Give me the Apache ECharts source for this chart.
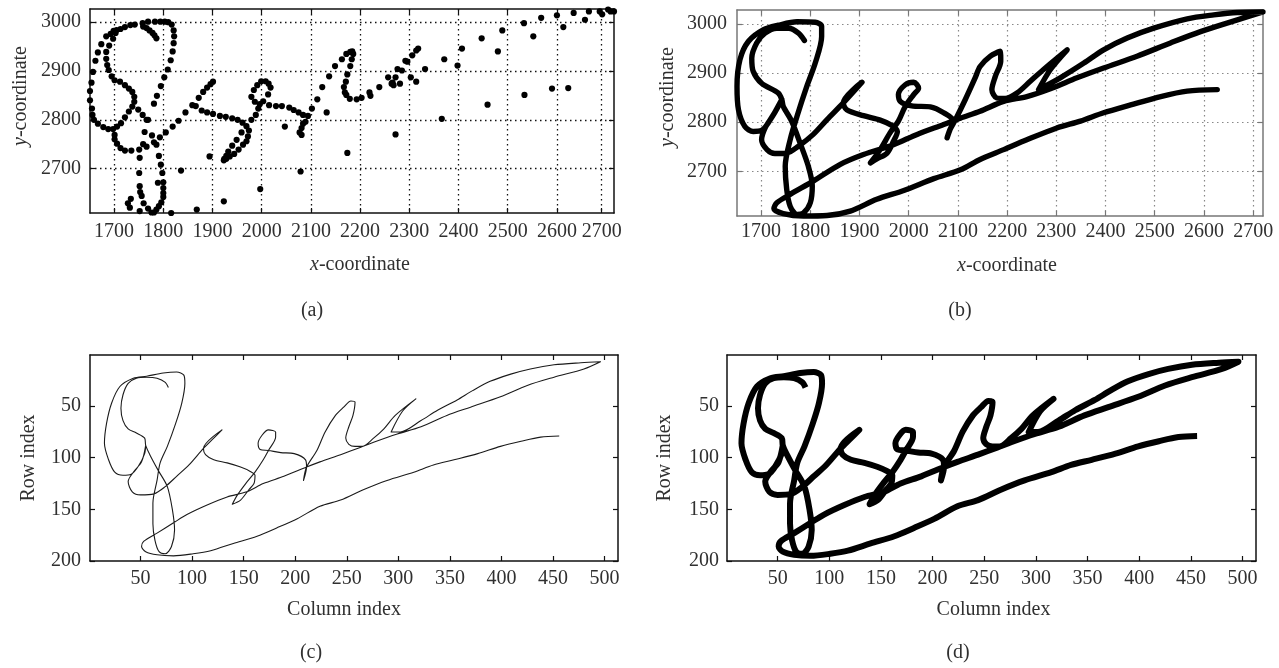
<!DOCTYPE html>
<html><head><meta charset="utf-8">
<style>html,body{margin:0;padding:0;background:#fff}#c{width:1279px;height:668px}</style>
<script src="https://cdn.jsdelivr.net/npm/echarts@6/dist/echarts.min.js"></script>
</head><body><div id="c"></div>
<script>
const xTicks = [1700,1800,1900,2000,2100,2200,2300,2400,2500,2600,2700];
const xTicksA = [1700,1800,1900,2000,2100,2200,2300,2400,2500,2600,2691];
const yTicks = [2700,2800,2900,3000];
const colTicks = [50,100,150,200,250,300,350,400,450,500];
const rowTicks = [50,100,150,200];
const captions = ['(a)','(b)','(c)','(d)'];

const dotsA = [[1786,2967],[1782,2973],[1778,2978],[1772,2983],[1766,2988],[1759,2991],[1758,2998],[1742,2995],[1733,2994],[1722,2990],[1713,2986],[1705,2984],[1699,2982],[1693,2976],[1684,2971],[1674,2955],[1667,2938],[1662,2921],[1657,2898],[1654,2876],[1651,2859],[1651,2840],[1655,2823],[1656,2810],[1659,2800],[1667,2792],[1678,2785],[1688,2781],[1698,2781],[1706,2786],[1714,2793],[1722,2805],[1730,2817],[1737,2827],[1741,2837],[1741,2847],[1737,2857],[1730,2864],[1722,2871],[1712,2878],[1701,2881],[1695,2889],[1689,2902],[1686,2912],[1684,2925],[1684,2939],[1690,2952],[1698,2966],[1703,2978],[1769,3001],[1783,3001],[1794,3001],[1803,3001],[1810,3000],[1817,2995],[1821,2983],[1822,2971],[1821,2957],[1819,2940],[1815,2922],[1809,2903],[1802,2887],[1795,2869],[1787,2849],[1781,2833],[1769,2800],[1762,2775],[1777,2768],[1793,2764],[1805,2774],[1819,2786],[1831,2798],[1845,2815],[1859,2830],[1872,2845],[1881,2857],[1889,2866],[1896,2873],[1901,2878],[1866,2828],[1878,2819],[1889,2815],[1901,2812],[1915,2808],[1927,2806],[1940,2803],[1951,2800],[1961,2794],[1969,2787],[1974,2778],[1972,2766],[1969,2756],[1962,2749],[1959,2774],[1949,2759],[1940,2747],[1932,2735],[1928,2726],[1923,2717],[1935,2725],[1944,2730],[1953,2739],[1924,2720],[1928,2720],[1993,2823],[1988,2810],[1979,2800],[2018,2866],[2014,2874],[2008,2879],[1999,2879],[1991,2871],[1984,2861],[1979,2847],[1986,2837],[1996,2832],[2003,2838],[2015,2830],[2029,2828],[2041,2828],[2056,2825],[2065,2820],[2075,2815],[2084,2810],[2094,2808],[2089,2796],[2084,2792],[2081,2783],[2077,2774],[2081,2769],[2102,2823],[2113,2842],[2123,2867],[2137,2889],[2047,2786],[2132,2815],[2013,2852],[2079,2694],[1997,2658],[1923,2633],[1894,2725],[1836,2696],[1868,2616],[1816,2609],[1791,2726],[1795,2708],[1798,2691],[1800,2672],[1789,2671],[1800,2660],[1800,2650],[1800,2642],[1796,2631],[1791,2623],[1786,2616],[1781,2610],[1776,2610],[1769,2618],[1760,2629],[1756,2644],[1753,2652],[1752,2664],[1751,2691],[1752,2722],[1751,2739],[1759,2750],[1766,2745],[1781,2754],[1786,2749],[1749,2821],[1758,2810],[1766,2800],[1728,2629],[1734,2638],[1732,2620],[1752,2613],[1701,2769],[1701,2760],[1706,2751],[1713,2742],[1722,2737],[1735,2737],[2149,2910],[2163,2924],[2172,2935],[2180,2939],[2184,2940],[2186,2935],[2183,2924],[2180,2910],[2174,2893],[2171,2878],[2167,2867],[2169,2856],[2172,2851],[2179,2843],[2193,2842],[2203,2845],[2219,2856],[2221,2849],[2239,2867],[2257,2887],[2264,2874],[2268,2871],[2266,2876],[2272,2887],[2281,2874],[2276,2904],[2285,2901],[2292,2921],[2296,2919],[2303,2887],[2306,2932],[2314,2878],[2314,2942],[2318,2946],[2332,2904],[2371,2924],[2398,2911],[2407,2946],[2447,2967],[2480,2940],[2489,2983],[2533,2998],[2552,2971],[2568,3009],[2600,3014],[2613,2990],[2634,3019],[2657,3005],[2665,3022],[2687,3022],[2692,3016],[2704,3026],[2709,3022],[2716,3022],[2174,2732],[2272,2770],[2366,2802],[2459,2831],[2534,2851],[2590,2864],[2623,2865]];

const strokeB = [[1788,2966],[1776,2981],[1756,2991],[1732,2991],[1708,2981],[1691,2961],[1681,2930],[1684,2903],[1701,2879],[1735,2859],[1742,2846],[1745,2832],[1762,2802],[1779,2758],[1796,2710],[1804,2670],[1800,2636],[1786,2615],[1773,2612],[1759,2629],[1752,2663],[1749,2710],[1759,2764],[1773,2812],[1793,2873],[1810,2920],[1823,2974],[1823,2995],[1810,3003],[1773,3004],[1735,2997],[1705,2988],[1674,2964],[1657,2927],[1651,2873],[1654,2825],[1667,2791],[1684,2781],[1701,2783],[1725,2815],[1742,2846],[1725,2815],[1708,2788],[1701,2764],[1712,2744],[1728,2736],[1752,2737],[1776,2751],[1806,2775],[1834,2805],[1867,2839],[1905,2881],[1867,2839],[1874,2825],[1908,2813],[1942,2804],[1966,2793],[1977,2781],[1969,2761],[1956,2737],[1935,2725],[1922,2717],[1942,2744],[1962,2778],[1979,2802],[1993,2832],[2010,2856],[2020,2869],[2010,2881],[1993,2876],[1979,2856],[1983,2842],[2006,2833],[2044,2831],[2071,2819],[2091,2802],[2084,2785],[2078,2768],[2084,2785],[2095,2805],[2115,2846],[2135,2890],[2145,2913],[2166,2934],[2186,2944],[2187,2924],[2176,2893],[2169,2866],[2179,2849],[2196,2848],[2220,2859],[2247,2883],[2274,2907],[2322,2947],[2288,2907],[2264,2866],[2308,2890],[2356,2920],[2396,2947],[2444,2971],[2498,2991],[2566,3010],[2620,3018],[2668,3023],[2720,3024],[2668,3008],[2593,2984],[2532,2961],[2464,2934],[2396,2910],[2342,2890],[2288,2868],[2240,2852],[2193,2842],[2145,2822],[2105,2808],[2071,2795],[2017,2775],[1969,2754],[1908,2734],[1861,2714],[1806,2680],[1759,2653],[1732,2636],[1726,2624],[1745,2614],[1786,2609],[1834,2610],[1881,2619],[1935,2643],[1990,2661],[2051,2685],[2105,2703],[2145,2724],[2193,2744],[2240,2764],[2301,2788],[2349,2802],[2396,2819],[2451,2835],[2512,2852],[2566,2863],[2627,2866]];

const strokeCD = [[77,32],[74,27],[66,23],[56,22],[46,23],[38,28],[33,39],[31,52],[33,64],[38,72],[46,76],[54,81],[55,88],[59,97],[67,112],[76,128],[81,151],[83,170],[80,186],[74,193],[68,191],[64,180],[62,164],[62,144],[66,122],[69,105],[76,89],[84,67],[90,47],[93,28],[92,20],[85,17],[72,18],[56,21],[43,23],[30,31],[22,47],[17,67],[15,86],[19,102],[25,114],[33,117],[41,116],[48,108],[54,96],[55,88],[51,104],[43,114],[38,123],[42,133],[50,136],[63,135],[74,128],[85,118],[97,107],[111,91],[121,81],[129,73],[111,91],[113,97],[121,102],[134,105],[147,109],[156,113],[161,117],[160,125],[155,131],[147,141],[139,145],[144,136],[152,125],[161,114],[169,102],[174,93],[181,80],[181,75],[174,73],[168,78],[164,86],[166,92],[174,93],[186,95],[199,96],[210,102],[211,109],[208,122],[211,109],[221,93],[229,75],[239,59],[247,51],[254,45],[258,46],[256,59],[252,70],[249,81],[252,87],[258,89],[265,89],[276,81],[286,72],[297,59],[317,43],[304,55],[293,75],[302,75],[322,64],[338,54],[357,44],[372,35],[389,26],[409,19],[428,14],[451,10],[477,8],[496,7],[480,14],[451,22],[425,30],[399,41],[370,51],[347,59],[322,70],[299,77],[276,85],[263,90],[244,97],[224,104],[211,109],[189,118],[169,125],[153,133],[134,138],[114,146],[95,155],[82,163],[66,173],[53,181],[51,186],[55,191],[66,194],[82,195],[101,193],[118,190],[140,183],[163,176],[182,168],[202,159],[224,147],[244,141],[266,131],[289,122],[315,114],[334,107],[354,102],[377,96],[399,89],[419,84],[438,80],[456,79]];

const SERIF = '"Liberation Serif","DejaVu Serif",serif';
const TXT = '#303030';
const labelFont = {fontFamily:SERIF,fontSize:20,color:TXT};

function nameStyle(pad){
  return {fontFamily:SERIF,fontSize:20,color:TXT,padding:pad,
    rich:{i:{fontFamily:SERIF,fontSize:20,color:TXT,fontStyle:'italic'},t:{fontFamily:SERIF,fontSize:20,color:TXT}}};
}
function axisPair(dim,gi,o){
  const line={show:true,onZero:false,lineStyle:{color:o.box,width:1.5}};
  const tick={show:true,inside:true,length:5,lineStyle:{color:o.box,width:1.2},customValues:o.ticks};
  const main={type:'value',gridIndex:gi,position:dim==='x'?'bottom':'left',min:o.min,max:o.max,inverse:!!o.inverse,
    axisLine:line,axisTick:tick,
    axisLabel:Object.assign({show:true,margin:o.margin,hideOverlap:false,showMinLabel:true,showMaxLabel:true,
      customValues:o.ticks,formatter:o.fmt||(v=>String(v))},labelFont),
    splitLine:o.grid?{show:true,lineStyle:{color:o.grid,width:o.gridW,type:[1.5,3.5]}}:{show:false},
    name:o.name,nameLocation:'middle',nameGap:o.gap,nameRotate:dim==='y'?90:0,
    nameTextStyle:nameStyle(o.pad)};
  const mirror={type:'value',gridIndex:gi,position:dim==='x'?'top':'right',min:o.min,max:o.max,inverse:!!o.inverse,
    axisLine:line,axisTick:tick,axisLabel:{show:false},splitLine:{show:false}};
  return [main,mirror];
}
const labelA = v => v===2691 ? '2700' : String(v);
const grids=[
 {left:90,top:9,width:524,height:204},
 {left:737,top:10,width:526,height:206},
 {left:90,top:355,width:528,height:206},
 {left:727,top:355,width:529,height:206}];
const xAxes=[
 ...axisPair('x',0,{box:'#111',ticks:xTicksA,min:1651,max:2716,margin:9,grid:'#111',gridW:1.3,fmt:labelA,name:'{i|x}{t|-coordinate}',gap:42,pad:[0,0,0,16]}),
 ...axisPair('x',1,{box:'#777',ticks:xTicks,min:1651,max:2720,margin:6,grid:'#888',gridW:1.2,name:'{i|x}{t|-coordinate}',gap:40,pad:[0,0,0,14]}),
 ...axisPair('x',2,{box:'#111',ticks:colTicks,min:1,max:513,margin:8,name:'Column index',gap:39,pad:[0,20,0,0]}),
 ...axisPair('x',3,{box:'#111',ticks:colTicks,min:1,max:513,margin:8,name:'Column index',gap:39,pad:[0,0,0,4]})];
const yAxes=[
 ...axisPair('y',0,{box:'#111',ticks:yTicks,min:2609,max:3027,margin:9,grid:'#111',gridW:1.3,name:'{i|y}{t|-coordinate}',gap:59,pad:[0,0,0,30]}),
 ...axisPair('y',1,{box:'#777',ticks:yTicks,min:2609,max:3028,margin:10,grid:'#888',gridW:1.2,name:'{i|y}{t|-coordinate}',gap:59,pad:[0,0,0,32]}),
 ...axisPair('y',2,{box:'#111',ticks:rowTicks,min:0.5,max:200,inverse:true,margin:9,name:'Row index',gap:51,pad:[0,0,0,0]}),
 ...axisPair('y',3,{box:'#111',ticks:rowTicks,min:0.5,max:200,inverse:true,margin:8,name:'Row index',gap:52,pad:[0,0,0,0]})];
const option={
 animation:false,backgroundColor:'#fff',
 title:[[312,301],[960,301],[311,643],[958,643]].map((p,i)=>({text:captions[i],left:p[0],top:p[1],padding:0,
   textAlign:'center',textStyle:{fontFamily:SERIF,fontSize:20,fontWeight:'normal',color:TXT}})),
 grid:grids,xAxis:xAxes,yAxis:yAxes,
 series:[
  {type:'scatter',xAxisIndex:0,yAxisIndex:0,data:dotsA,symbolSize:6.2,itemStyle:{color:'#000',opacity:1},clip:false},
  {type:'line',xAxisIndex:2,yAxisIndex:2,data:strokeB,showSymbol:false,clip:false,smooth:0.3,lineStyle:{color:'#000',width:5.4,cap:'round',join:'round'}},
  {type:'line',xAxisIndex:4,yAxisIndex:4,data:strokeCD,showSymbol:false,smooth:0.3,lineStyle:{color:'#1a1a1a',width:1.1,join:'round'}},
  {type:'line',xAxisIndex:6,yAxisIndex:6,data:strokeCD,showSymbol:false,clip:false,smooth:0.3,lineStyle:{color:'#000',width:6,cap:'butt',join:'round'}}
 ]};
echarts.init(document.getElementById('c'),null,{renderer:'canvas'}).setOption(option);
</script></body></html>
